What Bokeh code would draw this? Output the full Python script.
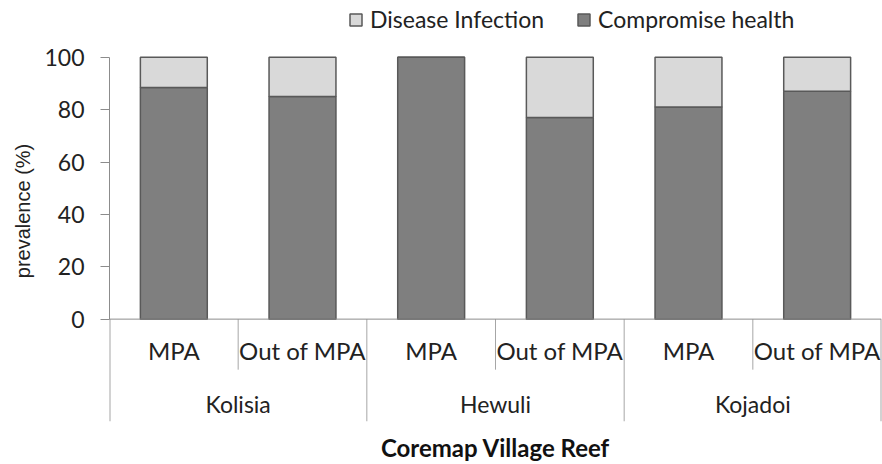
from bokeh.plotting import figure
from bokeh.models import (ColumnDataSource, Range1d, FixedTicker, Legend, LegendItem, Span)
from bokeh.core.properties import value
from bokeh.embed import file_html
from bokeh.resources import INLINE

# ---- data ----
groups = ["Kolisia", "Hewuli", "Kojadoi"]
sites = ["MPA", "Out of MPA"]
compromise = [88.5, 85, 100, 77, 81, 87]
disease = [11.5, 15, 0, 23, 19, 13]
y_ticks = [0, 20, 40, 60, 80, 100]

series = ["compromise", "disease"]
labels = ["Compromise health", "Disease Infection"]
colors = ["#7f7f7f", "#d9d9d9"]

n = len(groups) * len(sites)
xs = [i + 0.5 for i in range(n)]
sub_labels = [s for g in groups for s in sites]

src = ColumnDataSource(dict(x=xs, compromise=compromise, disease=disease))

FONT = "Lato"
AX = "#8c8c8c"
Y_BOTTOM = -39.1

p = figure(width=882, height=464, output_backend="svg", toolbar_location=None,
           x_range=Range1d(0, n), y_range=Range1d(Y_BOTTOM, 121.7),
           min_border_left=109, min_border_right=1, min_border_top=0, min_border_bottom=42)
p.outline_line_color = None
p.grid.visible = False
p.background_fill_color = "white"
p.border_fill_color = "white"

rs = p.vbar_stack(series, x="x", width=0.52, source=src, fill_color=colors,
                  line_color="#595959", line_width=1.5)

# y axis
ya = p.yaxis[0]
ya.ticker = FixedTicker(ticks=y_ticks)
ya.bounds = (y_ticks[0], y_ticks[-1])
ya.axis_line_color = AX
ya.major_tick_line_color = AX
ya.major_tick_out = 9
ya.major_tick_in = 0
ya.minor_tick_line_color = None
ya.major_label_text_font = FONT
ya.major_label_text_font_size = "23px"
ya.major_label_text_color = "#222222"
ya.major_label_standoff = 16
ya.axis_label = "prevalence (%)"
ya.axis_label_text_font = "Liberation Sans"
ya.axis_label_text_font_size = "20px"
ya.axis_label_text_font_style = "normal"
ya.axis_label_text_color = "#222222"
ya.axis_label_standoff = 7

# x axis: only title
xa = p.xaxis[0]
xa.ticker = FixedTicker(ticks=[])
xa.axis_line_color = None
xa.major_tick_line_color = None
xa.minor_tick_line_color = None
xa.axis_label = "Coremap Village Reef"
xa.axis_label_text_font = FONT
xa.axis_label_text_font_size = "24px"
xa.axis_label_text_font_style = "bold"
xa.axis_label_text_color = "#111111"
xa.axis_label_standoff = 11

# baseline at 0
p.add_layout(Span(location=0, dimension="width", line_color=AX, line_width=1))

# category separators
bx = list(range(n + 1))
by1 = [Y_BOTTOM if i % len(sites) == 0 else -19.3 for i in bx]
lw = [2 if i in (0, n) else 1 for i in bx]
p.segment(x0=bx, x1=bx, y0=[0] * len(bx), y1=by1, line_color="#a6a6a6", line_width=lw)

# sub-category labels
p.text(x=xs, y=[-11.9] * n, text=sub_labels, text_align="center", text_baseline="middle",
       text_font=value(FONT), text_font_size="24px", text_color="#222222")
# group labels
gx = [len(sites) * (i + 0.5) for i in range(len(groups))]
p.text(x=gx, y=[-32.6] * len(groups), text=groups, text_align="center", text_baseline="middle",
       text_font=value(FONT), text_font_size="23px", text_color="#222222")

legend = Legend(items=[LegendItem(label=labels[1], renderers=[rs[1]]),
                       LegendItem(label=labels[0], renderers=[rs[0]])],
                orientation="horizontal", location=(239, 388),
                padding=0, margin=0, spacing=32, label_standoff=7,
                glyph_width=15, glyph_height=15,
                border_line_color=None, background_fill_alpha=0,
                label_text_font=FONT, label_text_font_size="23px", label_text_color="#222222")
p.add_layout(legend)

open("out.html", "w").write(file_html(p, INLINE))
